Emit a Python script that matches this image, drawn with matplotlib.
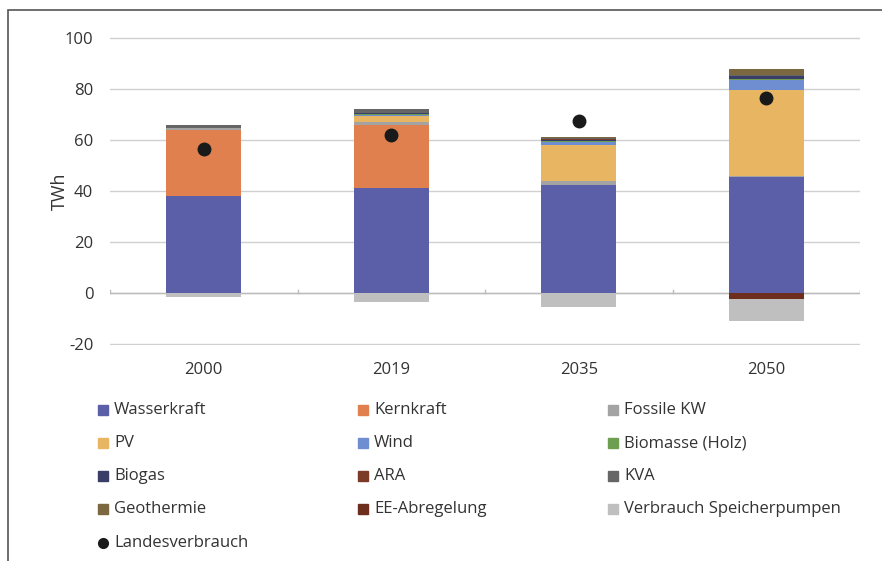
import numpy as np
import matplotlib
matplotlib.use('Agg')
import matplotlib.pyplot as plt
from matplotlib.patches import Rectangle
from matplotlib.lines import Line2D

plt.rcParams['font.family'] = ['Open Sans', 'DejaVu Sans']
plt.rcParams['axes.unicode_minus'] = False

years = ['2000', '2019', '2035', '2050']

# positive contributions (TWh), stacked bottom to top
wasserkraft = [38.2, 41.0, 42.2, 45.4]
kernkraft = [25.6, 25.0, 0.0, 0.0]
fossile_kw = [1.0, 1.2, 1.6, 0.4]
pv = [0.0, 2.2, 14.4, 33.7]
wind = [0.0, 0.6, 1.1, 4.2]
biomasse = [0.0, 0.2, 0.2, 0.3]
biogas = [0.0, 0.2, 0.6, 1.2]
ara = [0.1, 0.1, 0.1, 0.1]
kva = [0.8, 1.5, 0.4, 0.2]
geothermie = [0.0, 0.0, 0.4, 2.5]

# negative contributions
ee_abregelung = [0.0, 0.0, 0.0, -2.3]
speicherpumpen = [-1.5, -3.6, -5.4, -8.7]

landesverbrauch = [56.5, 61.8, 67.6, 76.3]

pos_series = [
    ('Wasserkraft', wasserkraft, '#5B5FA8'),
    ('Kernkraft', kernkraft, '#E0804F'),
    ('Fossile KW', fossile_kw, '#A3A3A3'),
    ('PV', pv, '#E8B562'),
    ('Wind', wind, '#6F8ED2'),
    ('Biomasse (Holz)', biomasse, '#6E9E50'),
    ('Biogas', biogas, '#393D68'),
    ('ARA', ara, '#7C3B27'),
    ('KVA', kva, '#666666'),
    ('Geothermie', geothermie, '#7B6740'),
]
neg_series = [
    ('EE-Abregelung', ee_abregelung, '#6E2E1E'),
    ('Verbrauch Speicherpumpen', speicherpumpen, '#BFBFBF'),
]

fig = plt.figure(figsize=(8.82, 5.61), dpi=100)
ax = fig.add_axes([110 / 882, 1 - 345 / 561, 750 / 882, 308 / 561])

x = np.arange(len(years))
width = 0.4
bottom = np.zeros(len(years))
for name, vals, col in pos_series:
    vals = np.array(vals)
    ax.bar(x, vals, width, bottom=bottom, color=col, zorder=3)
    bottom += vals
nbottom = np.zeros(len(years))
for name, vals, col in neg_series:
    vals = np.array(vals)
    ax.bar(x, vals, width, bottom=nbottom, color=col, zorder=3)
    nbottom += vals

ax.plot(x, landesverbrauch, 'o', color='#1a1a1a', markersize=9, zorder=4)

ax.set_xlim(-0.5, len(years) - 0.5)
ax.set_ylim(-20.4, 100.4)
ax.set_yticks(range(-20, 101, 20))
ax.grid(axis='y', color='#D0D0D0', linewidth=1, zorder=0)
ax.axhline(0, color='#BBBBBB', linewidth=1, zorder=2)
# small category ticks on the zero axis
for b in np.arange(len(years) + 1) - 0.5:
    ax.plot([b, b], [0, 1.3], color='#BBBBBB', linewidth=1, zorder=2)

for s in ax.spines.values():
    s.set_visible(False)
ax.set_xticks(x)
ax.set_xticklabels(years)
ax.tick_params(axis='x', length=0, pad=12, labelsize=12, colors='#333333')
ax.tick_params(axis='y', length=0, pad=12, labelsize=12, colors='#333333')
ax.set_ylabel('TWh', fontsize=13, color='#333333')
ax.yaxis.set_label_coords(-0.055, 0.5)

# legend laid out in three columns, row by row
legend_items = [(n, c, 's') for n, v, c in pos_series + neg_series]
legend_items.append(('Landesverbrauch', '#1a1a1a', 'o'))
col_x = [103, 363, 613]
row_y = [410, 443, 476, 509, 543]
for i, (name, col, mk) in enumerate(legend_items):
    r, c = divmod(i, 3)
    fx = col_x[c] / 882
    fy = 1 - row_y[r] / 561
    fig.add_artist(Line2D([fx], [fy], marker=mk, color=col, markersize=7,
                          linestyle='none', transform=fig.transFigure))
    fig.text(fx + 11 / 882, fy, name, fontsize=12, color='#333333',
             va='center', ha='left')

# outer frame
fig.add_artist(Rectangle((8 / 882, -0.05), 1.2, 1 - 10 / 561 + 0.05,
                         transform=fig.transFigure, fill=False,
                         edgecolor='#555555', linewidth=1.2))

fig.savefig('out.png', dpi=100)
